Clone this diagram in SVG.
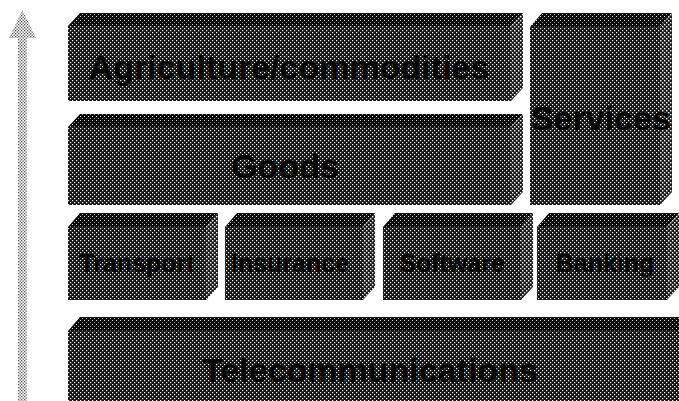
<svg xmlns="http://www.w3.org/2000/svg" width="679" height="401" viewBox="0 0 679 401">
  <defs>
    <!-- halftone screens -->
    <pattern id="screenFront" width="4" height="4" patternUnits="userSpaceOnUse">
      <rect width="4" height="4" fill="#141414"/>
      <rect x="0" y="0" width="1.2" height="1.2" fill="#ffffff"/>
      <rect x="2" y="2" width="1.2" height="1.2" fill="#ffffff"/>
    </pattern>
    <pattern id="screenTop" width="4" height="4" patternUnits="userSpaceOnUse">
      <rect width="4" height="4" fill="#0a0a0a"/>
      <rect x="0" y="0" width="1" height="1" fill="#e0e0e0"/>
      <rect x="2" y="2" width="1" height="1" fill="#999999"/>
    </pattern>
    <pattern id="screenSide" width="4" height="4" patternUnits="userSpaceOnUse">
      <rect width="4" height="4" fill="#1c1c1c"/>
      <rect x="0" y="0" width="1.4" height="1.4" fill="#ffffff"/>
      <rect x="2" y="2" width="1.4" height="1.4" fill="#ffffff"/>
    </pattern>
    <pattern id="screenArrow" width="3" height="3" patternUnits="userSpaceOnUse">
      <rect width="3" height="3" fill="#ffffff"/>
      <rect x="0" y="0" width="1.3" height="1.3" fill="#555555"/>
      <rect x="1.5" y="1.5" width="1.3" height="1.3" fill="#555555"/>
    </pattern>
  </defs>
  <style>
    .front { fill: url(#screenFront); }
    .top { fill: url(#screenTop); }
    .side { fill: url(#screenSide); }
    .lbl { font-family: "Liberation Sans", Arial, sans-serif; font-weight: bold; fill: #050505; text-anchor: middle; }
    .big { font-size: 34px; }
    .small { font-size: 25px; }
  </style>

  <rect width="679" height="401" fill="#ffffff"/>

  <!-- rising arrow on the left -->
  <g id="arrow">
    <rect x="18" y="30" width="9" height="371" fill="url(#screenArrow)"/>
    <polygon points="9,38 36,38 22.5,10" fill="url(#screenArrow)"/>
  </g>

  <!-- Agriculture/commodities -->
  <g id="agriculture">
    <polygon class="top" points="68,26 80,13 523,13 511,26"/>
    <polygon class="side" points="511,26 523,13 523,88 511,101"/>
    <rect class="front" x="68" y="26" width="443" height="75"/>
    <text class="lbl big" x="289" y="79">Agriculture/commodities</text>
  </g>

  <!-- Goods -->
  <g id="goods">
    <polygon class="top" points="68,127 80,114 523,114 511,127"/>
    <polygon class="side" points="511,127 523,114 523,192 511,205"/>
    <rect class="front" x="68" y="127" width="443" height="78"/>
    <text class="lbl big" x="285" y="178">Goods</text>
  </g>

  <!-- Services -->
  <g id="services">
    <polygon class="top" points="530,27 542,13 672,13 660,27"/>
    <polygon class="side" points="660,27 672,13 672,192 660,205"/>
    <rect class="front" x="530" y="27" width="130" height="178"/>
    <text class="lbl big" x="601" y="130">Services</text>
  </g>

  <!-- Transport -->
  <g id="transport">
    <polygon class="top" points="68,227 80,213 218,213 206,227"/>
    <polygon class="side" points="206,227 218,213 218,287 206,300"/>
    <rect class="front" x="68" y="227" width="138" height="73"/>
    <text class="lbl small" x="137" y="272">Transport</text>
  </g>

  <!-- Insurance -->
  <g id="insurance">
    <polygon class="top" points="225,227 237,213 375,213 363,227"/>
    <polygon class="side" points="363,227 375,213 375,287 363,300"/>
    <rect class="front" x="225" y="227" width="138" height="73"/>
    <text class="lbl small" x="290" y="272">Insurance</text>
  </g>

  <!-- Software -->
  <g id="software">
    <polygon class="top" points="383,227 395,213 533,213 521,227"/>
    <polygon class="side" points="521,227 533,213 533,287 521,300"/>
    <rect class="front" x="383" y="227" width="138" height="73"/>
    <text class="lbl small" x="452" y="272">Software</text>
  </g>

  <!-- Banking -->
  <g id="banking">
    <polygon class="top" points="537,227 549,213 679,213 667,227"/>
    <polygon class="side" points="667,227 679,213 679,287 667,300"/>
    <rect class="front" x="537" y="227" width="130" height="73"/>
    <text class="lbl small" x="605" y="272">Banking</text>
  </g>

  <!-- Telecommunications -->
  <g id="telecommunications">
    <polygon class="top" points="68,331 80,317 690,317 678,331"/>
    <rect class="front" x="68" y="331" width="620" height="80"/>
    <text class="lbl big" x="370" y="382">Telecommunications</text>
  </g>

  <g id="connectors"/>
</svg>
